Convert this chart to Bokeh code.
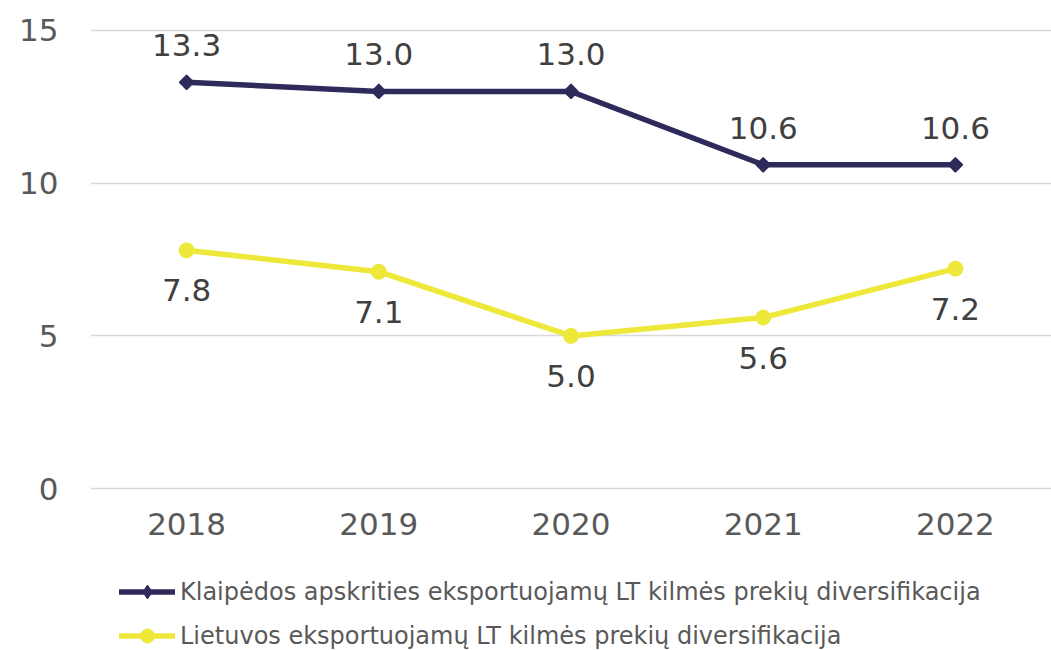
import math
from bokeh.plotting import figure
from bokeh.layouts import column
from bokeh.models import (ColumnDataSource, FixedTicker, Legend, LegendItem,
                          FactorRange, Range1d)
from bokeh.core.properties import value
from bokeh.embed import file_html
from bokeh.resources import INLINE

years = ["2018", "2019", "2020", "2021", "2022"]
klaipeda = [13.3, 13.0, 13.0, 10.6, 10.6]
lietuva = [7.8, 7.1, 5.0, 5.6, 7.2]
y_ticks = [0, 5, 10, 15]
name_k = "Klaipėdos apskrities eksportuojamų LT kilmės prekių diversifikacija"
name_l = "Lietuvos eksportuojamų LT kilmės prekių diversifikacija"

NAVY = "#2e2a5c"
YELLOW = "#ede83a"
FONT = "DejaVu Sans"

src = ColumnDataSource(dict(
    x=years, k=klaipeda, l=lietuva,
    kt=[f"{v:.1f}" for v in klaipeda],
    lt=[f"{v:.1f}" for v in lietuva],
))

p = figure(x_range=FactorRange(*years, range_padding=0),
           y_range=Range1d(-0.06, 15.06),
           width=1051, height=548, output_backend="svg", toolbar_location=None,
           min_border_left=90, min_border_top=28, min_border_right=0,
           min_border_bottom=58)
p.outline_line_color = None
p.background_fill_color = "white"
p.border_fill_color = "white"

p.xgrid.grid_line_color = None
p.ygrid.ticker = FixedTicker(ticks=y_ticks)
p.ygrid.grid_line_color = "#d9d9d9"
p.ygrid.grid_line_width = 1.5

p.yaxis.ticker = FixedTicker(ticks=y_ticks)
for ax in (p.xaxis[0], p.yaxis[0]):
    ax.axis_line_color = None
    ax.major_tick_line_color = None
    ax.minor_tick_line_color = None
    ax.major_tick_out = 0
    ax.major_tick_in = 0
    ax.major_label_text_font = FONT
    ax.major_label_text_font_size = "31px"
    ax.major_label_text_color = "#595959"
p.yaxis.major_label_standoff = 32
p.xaxis.major_label_standoff = 22

lk = p.line("x", "k", source=src, line_color=NAVY, line_width=5.5)
sk = p.scatter("x", "k", source=src, marker="square", angle=math.pi / 4,
               size=10, fill_color=NAVY, line_color=NAVY, line_width=1.5)
ll = p.line("x", "l", source=src, line_color=YELLOW, line_width=5.5)
sl = p.scatter("x", "l", source=src, marker="circle", size=15,
               fill_color=YELLOW, line_color=YELLOW)

p.text("x", "k", text="kt", source=src, y_offset=-37, text_align="center",
       text_baseline="middle", text_font=value(FONT), text_font_size="31px",
       text_color="#404040")
p.text("x", "l", text="lt", source=src, y_offset=40, text_align="center",
       text_baseline="middle", text_font=value(FONT), text_font_size="31px",
       text_color="#404040")

# legend figure below the chart
lg = figure(width=1051, height=102, output_backend="svg", toolbar_location=None,
            x_range=Range1d(0, 1051), y_range=Range1d(0, 102),
            x_axis_location=None, y_axis_location=None, min_border=0)
lg.outline_line_color = None
lg.xgrid.grid_line_color = None
lg.ygrid.grid_line_color = None
off = ColumnDataSource(dict(x=[-50, -40], y=[-50, -50]))
dk_l = lg.line("x", "y", source=off, line_color=NAVY, line_width=5.5,
               line_cap="round")
dk_s = lg.scatter("x", "y", source=off, marker="diamond", size=15,
                  fill_color=NAVY, line_color=NAVY)
dl_l = lg.line("x", "y", source=off, line_color=YELLOW, line_width=5.5,
               line_cap="round")
dl_s = lg.scatter("x", "y", source=off, marker="circle", size=15,
                  fill_color=YELLOW, line_color=YELLOW)

legend = Legend(items=[LegendItem(label=name_k, renderers=[dk_l, dk_s]),
                       LegendItem(label=name_l, renderers=[dl_l, dl_s])],
                orientation="vertical", location=(29, -3))
legend.border_line_color = None
legend.background_fill_alpha = 0
legend.label_text_font = FONT
legend.label_text_font_size = "24px"
legend.label_text_color = "#595959"
legend.glyph_width = 56
legend.glyph_height = 35
legend.label_height = 35
legend.label_standoff = 5
legend.spacing = 9
legend.margin = 0
legend.padding = 0
lg.add_layout(legend, "center")

layout = column(p, lg, spacing=0)
open("out.html", "w").write(file_html(layout, INLINE))
